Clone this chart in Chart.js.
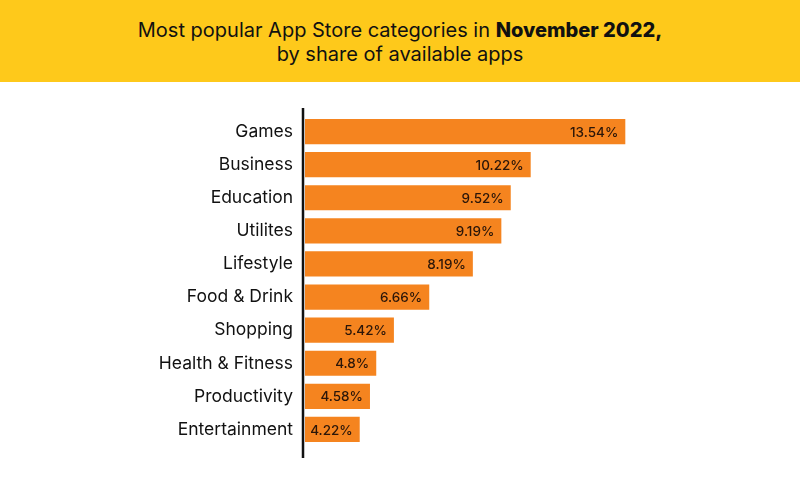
<!DOCTYPE html>
<html>
<head>
<meta charset="utf-8">
<script src="https://cdn.jsdelivr.net/npm/chart.js@4/dist/chart.umd.min.js"></script>
<style>
  html, body { margin: 0; padding: 0; background: #fff; }
  body { width: 800px; height: 500px; overflow: hidden; font-family: Inter, "Noto Sans", sans-serif; }
  #header {
    height: 82px; background: #fec91b; color: #111;
    text-align: center; font-size: 20px; line-height: 24px;
    box-sizing: border-box; padding-top: 18px;
  }
  #header b { font-weight: 800; }
  #wrap { position: relative; width: 800px; height: 418px; }
</style>
</head>
<body>
<div id="header">
  Most popular App Store categories in <b>November 2022,</b><br>
  by share of available apps
</div>
<div id="wrap"><canvas id="barChart"></canvas></div>
<script>
const categories = ["Games", "Business", "Education", "Utilites", "Lifestyle",
  "Food & Drink", "Shopping", "Health & Fitness", "Productivity", "Entertainment"];
const shares = [13.54, 10.22, 9.52, 9.19, 8.19, 6.66, 5.42, 4.8, 4.58, 4.22];

// value labels inside the end of each bar
const valueLabels = {
  id: "valueLabels",
  afterDatasetsDraw(chart) {
    const ctx = chart.ctx;
    const meta = chart.getDatasetMeta(0);
    ctx.save();
    ctx.font = "500 13.5px Inter, 'Noto Sans', sans-serif";
    ctx.fillStyle = "#2b1609";
    ctx.textAlign = "right";
    ctx.textBaseline = "middle";
    meta.data.forEach((bar, i) => {
      ctx.fillText(shares[i] + "%", bar.x - 7, bar.y + 1);
    });
    ctx.restore();
  },
};

// black vertical axis line, a bit longer than the bar area
const axisLine = {
  id: "axisLine",
  afterDraw(chart) {
    const { ctx, chartArea } = chart;
    ctx.save();
    ctx.strokeStyle = "#111";
    ctx.lineWidth = 2.5;
    ctx.beginPath();
    ctx.moveTo(chartArea.left - 2, chartArea.top - 7);
    ctx.lineTo(chartArea.left - 2, chartArea.bottom + 12);
    ctx.stroke();
    ctx.restore();
  },
};

new Chart(document.getElementById("barChart"), {
  type: "bar",
  data: {
    labels: categories,
    datasets: [
      {
        data: shares,
        backgroundColor: "#f5841f",
        borderWidth: 0,
        barPercentage: 0.76,
        categoryPercentage: 1,
      },
    ],
  },
  options: {
    indexAxis: "y",
    responsive: true,
    maintainAspectRatio: false,
    animation: false,
    layout: { padding: { top: 33, bottom: 54, right: 55, left: 0 } },
    plugins: {
      legend: { display: false },
      tooltip: { enabled: false },
    },
    scales: {
      x: { display: false, min: 2.3, max: 17.74 },
      y: {
        border: { display: false },
        grid: { display: false, drawTicks: false },
        ticks: {
          color: "#111",
          padding: 12,
          font: { family: "Inter, 'Noto Sans', sans-serif", size: 17.5 },
        },
        afterFit(scale) { scale.width = 305; },
      },
    },
  },
  plugins: [valueLabels, axisLine],
});
</script>
</body>
</html>
